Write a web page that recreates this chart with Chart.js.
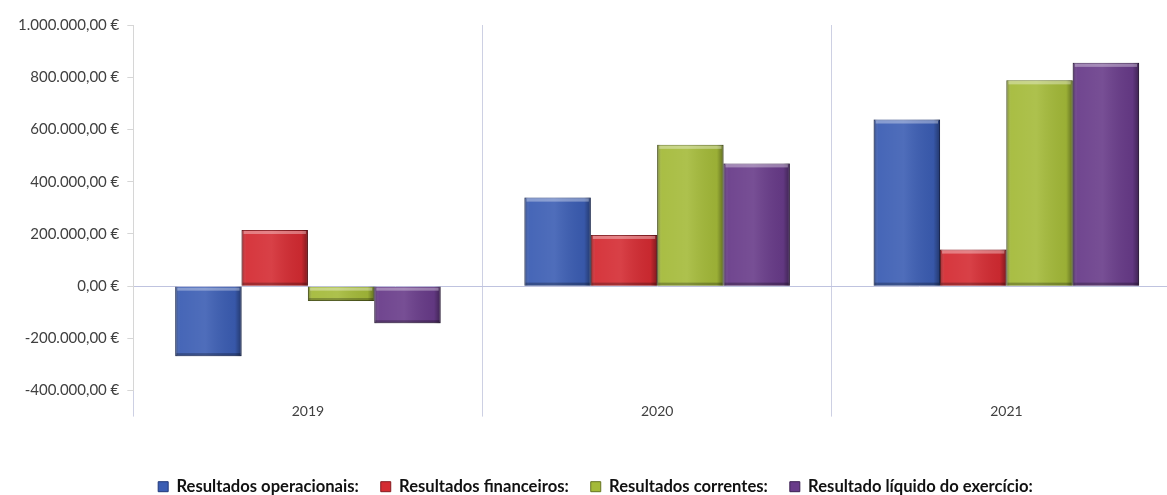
<!DOCTYPE html>
<html lang="pt">
<head>
<meta charset="utf-8">
<title>Resultados 2019-2021</title>
<script src="https://cdn.jsdelivr.net/npm/chart.js@4/dist/chart.umd.min.js"></script>
<style>
  html, body { margin: 0; padding: 0; background: #fff; overflow: hidden; }
  #wrap { width: 1185px; height: 495px; position: relative; }
</style>
</head>
<body>
<div id="wrap"><canvas id="resultadosChart"></canvas></div>
<script>
// Dados do gráfico
const anos = ['2019', '2020', '2021'];
const resultadosOperacionais = [-268000, 339000, 638000];
const resultadosFinanceiros = [215000, 196000, 140000];
const resultadosCorrentes = [-57000, 541000, 788000];
const resultadoLiquido = [-142000, 470000, 855000];

const series = [
    { label: 'Resultados operacionais:', data: resultadosOperacionais, cor: '#3b5db3', borda: '#22397a' },
    { label: 'Resultados financeiros:', data: resultadosFinanceiros, cor: '#d42b32', borda: '#861b20' },
    { label: 'Resultados correntes:', data: resultadosCorrentes, cor: '#a4ba39', borda: '#667422' },
    { label: 'Resultado líquido do exercício:', data: resultadoLiquido, cor: '#683b89', borda: '#3c2152' }
];

// 1.000.000,00 €
function formatarEuro(v) {
    const neg = v < 0;
    const inteiro = Math.abs(Math.round(v)).toString().replace(/\B(?=(\d{3})+(?!\d))/g, '.');
    return (neg ? '-' : '') + inteiro + ',00 €';
}

// sombreado para dar volume às barras
const sombreado = {
    id: 'sombreado',
    afterDatasetsDraw(chart) {
        const ctx = chart.ctx;
        ctx.save();
        chart.data.datasets.forEach((ds, i) => {
            chart.getDatasetMeta(i).data.forEach(bar => {
                const p = bar.getProps(['x', 'y', 'base', 'width'], true);
                const left = p.x - p.width / 2;
                const top = Math.min(p.y, p.base);
                const h = Math.abs(p.base - p.y);
                const g = ctx.createLinearGradient(left, 0, left + p.width, 0);
                g.addColorStop(0, 'rgba(0,0,0,0.35)');
                g.addColorStop(0.07, 'rgba(255,255,255,0.06)');
                g.addColorStop(0.45, 'rgba(255,255,255,0.10)');
                g.addColorStop(0.9, 'rgba(0,0,0,0.06)');
                g.addColorStop(1, 'rgba(0,0,0,0.4)');
                ctx.fillStyle = g;
                ctx.fillRect(left, top, p.width, h);
                // brilho em cima, sombra em baixo
                const faixa = Math.min(3, h / 3);
                ctx.fillStyle = 'rgba(255,255,255,0.35)';
                ctx.fillRect(left + 2, top + 1, p.width - 4, faixa);
                ctx.fillStyle = 'rgba(0,0,0,0.25)';
                ctx.fillRect(left + 1, top + h - faixa, p.width - 2, faixa);
            });
        });
        ctx.restore();
    }
};

// legenda mais junta ao fundo
const legendaBaixa = {
    id: 'legendaBaixa',
    beforeInit(chart) {
        const fitOriginal = chart.legend.fit;
        chart.legend.fit = function () {
            fitOriginal.bind(chart.legend)();
            this.height -= 10;
        };
    }
};

const ctx = document.getElementById('resultadosChart').getContext('2d');
new Chart(ctx, {
    type: 'bar',
    data: {
        labels: anos,
        datasets: series.map(s => ({
            label: s.label,
            data: s.data,
            backgroundColor: s.cor,
            borderColor: s.borda,
            borderWidth: 1,
            barPercentage: 1,
            categoryPercentage: 0.76
        }))
    },
    options: {
        responsive: true,
        maintainAspectRatio: false,
        animation: false,
        layout: { padding: { top: 25, left: 10, right: 4, bottom: 0 } },
        scales: {
            x: {
                grid: {
                    offset: true,
                    color: '#cdd0e3',
                    tickLength: 26,
                    tickColor: '#cdd0e3'
                },
                border: { display: false },
                ticks: { padding: -14, color: '#404040', font: { family: 'Lato', size: 14 } },
                afterFit: scale => { scale.height += 51; }
            },
            y: {
                min: -400000,
                max: 1000000,
                grid: {
                    color: c => c.tick && c.tick.value === 0 ? '#bfc3df' : 'rgba(0,0,0,0)',
                    tickColor: '#d6d6d6',
                    tickLength: 6
                },
                border: { color: '#d6d6d6' },
                ticks: {
                    stepSize: 200000,
                    padding: 8,
                    color: '#404040',
                    font: { family: 'Lato', size: 15 },
                    callback: v => formatarEuro(v)
                }
            }
        },
        plugins: {
            legend: {
                position: 'bottom',
                labels: {
                    boxWidth: 10,
                    boxHeight: 10,
                    padding: 22,
                    color: '#111',
                    font: { family: 'Lato', size: 16.6, weight: 'bold' }
                }
            },
            tooltip: {
                callbacks: {
                    label: c => c.dataset.label + ' ' + formatarEuro(c.raw)
                }
            }
        }
    },
    plugins: [sombreado, legendaBaixa]
});
</script>
</body>
</html>
